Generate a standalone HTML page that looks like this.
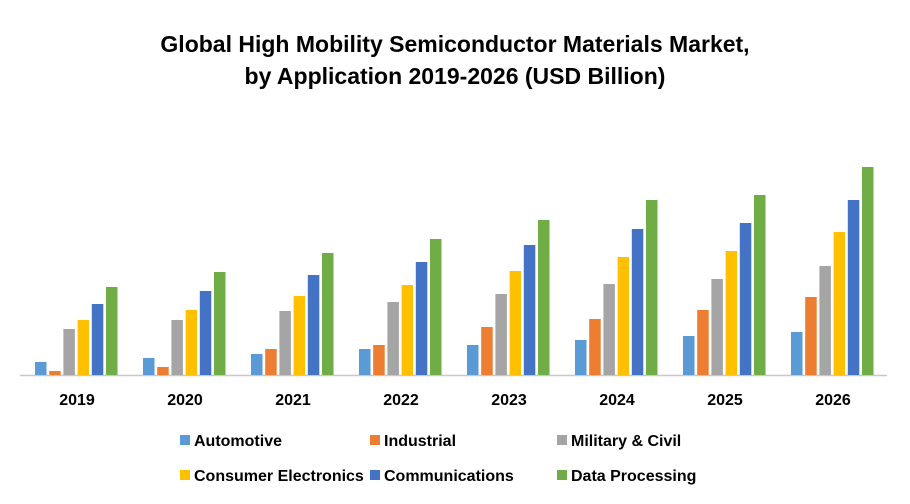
<!DOCTYPE html>
<html><head><meta charset="utf-8"><style>
body{margin:0;background:#fff;}
svg{display:block;font-family:"Liberation Sans",sans-serif;}
</style></head><body>
<svg id="chart" width="910" height="504">
<text x="455" y="52" text-anchor="middle" font-size="23" font-weight="bold" fill="#000">Global High Mobility Semiconductor Materials Market,</text>
<text x="455" y="84" text-anchor="middle" font-size="23" font-weight="bold" fill="#000">by Application 2019-2026 (USD Billion)</text>
<line x1="20" y1="375.5" x2="887" y2="375.5" stroke="#c8c8c8" stroke-width="1.5"/>
<g id="bars"></g>
<g id="xlabels"></g>
<g id="legend"></g>
</svg>
<script>
const categories = ["2019","2020","2021","2022","2023","2024","2025","2026"];
const seriesNames = ["Automotive","Industrial","Military & Civil","Consumer Electronics","Communications","Data Processing"];
const automotive = [13,17,21,26,30,35,39,43];
const industrial = [4,8,26,30,48,56,65,78];
const military = [46,55,64,73,81,91,96,109];
const consumer = [55,65,79,90,104,118,124,143];
const communications = [71,84,100,113,130,146,152,175];
const dataProcessing = [88,103,122,136,155,175,180,208];
const colors = ["#5b9bd5","#ed7d31","#a5a5a5","#ffc000","#4472c4","#70ad47"];
const series = [automotive,industrial,military,consumer,communications,dataProcessing];
const NS="http://www.w3.org/2000/svg";
const baseY=375, plotX0=23, band=108, maxV=210, plotH=210;
function yScale(v){return baseY - v/maxV*plotH;}
function xBand(i){return plotX0 + i*band;}
const bars=document.getElementById('bars');
categories.forEach((c,i)=>{
  series.forEach((s,j)=>{
    const r=document.createElementNS(NS,'rect');
    const x=xBand(i)+12+j*14.2;
    r.setAttribute('x',x);r.setAttribute('width',11.5);
    r.setAttribute('y',yScale(s[i]));r.setAttribute('height',baseY-yScale(s[i]));
    r.setAttribute('fill',colors[j]);
    
    
    bars.appendChild(r);
  });
  const t=document.createElementNS(NS,'text');
  t.setAttribute('x',xBand(i)+54);t.setAttribute('y',405);
  t.setAttribute('text-anchor','middle');t.setAttribute('font-size','16');t.setAttribute('font-weight','bold');
  t.textContent=c;
  
  
  document.getElementById('xlabels').appendChild(t);
});
const lx=[180,370,557,180,370,557], ly=[446,446,446,481,481,481];
const lg=document.getElementById('legend');
seriesNames.forEach((n,j)=>{
  const g=document.createElementNS(NS,'g');
  
  
  const r=document.createElementNS(NS,'rect');
  r.setAttribute('x',lx[j]);r.setAttribute('y',ly[j]-11);r.setAttribute('width',10);r.setAttribute('height',10);r.setAttribute('fill',colors[j]);
  const t=document.createElementNS(NS,'text');
  t.setAttribute('x',lx[j]+14);t.setAttribute('y',ly[j]);t.setAttribute('font-size','16');t.setAttribute('font-weight','bold');
  t.textContent=n;
  g.appendChild(r);g.appendChild(t);lg.appendChild(g);
});
</script>
</body></html>
